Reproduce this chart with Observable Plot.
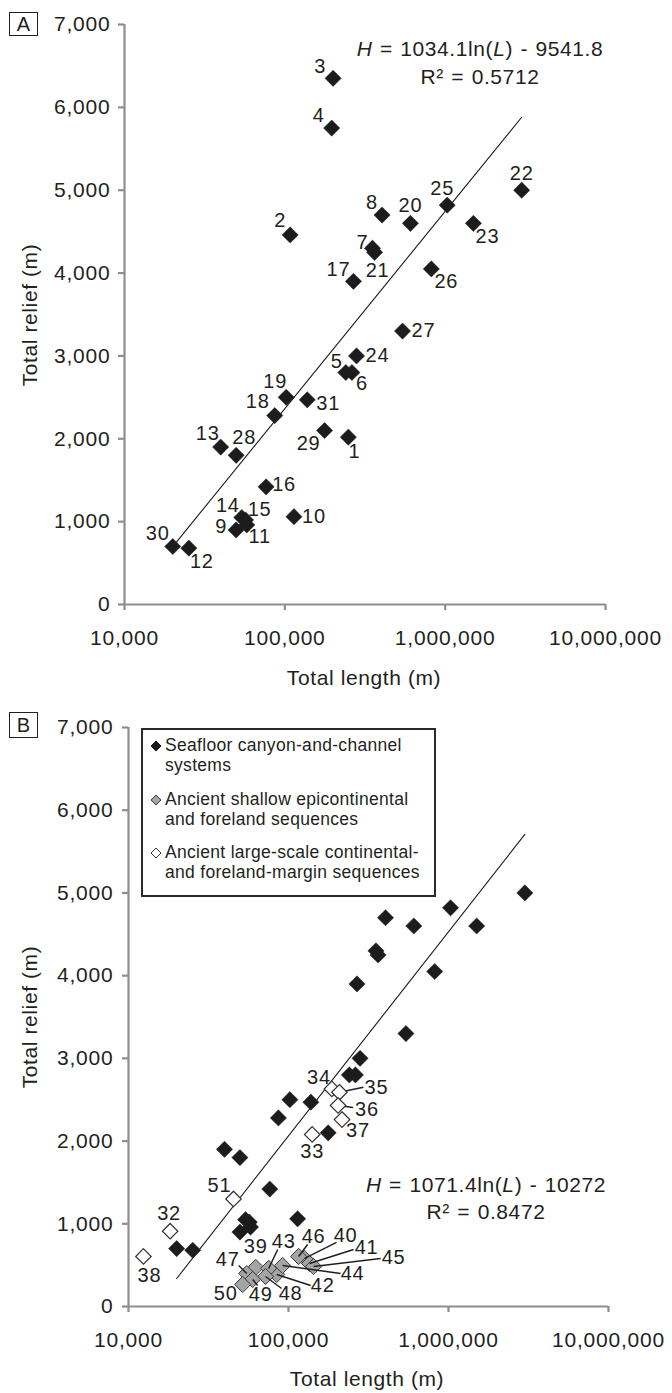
<!DOCTYPE html>
<html>
<head>
<meta charset="utf-8">
<script src="https://cdn.jsdelivr.net/npm/d3@7"></script>
<script src="https://cdn.jsdelivr.net/npm/@observablehq/plot@0.6"></script>
<style>
  html, body { margin: 0; padding: 0; background: #fff; }
  #page { position: relative; width: 672px; height: 1393px; overflow: hidden;
          font-family: "Liberation Sans", Arial, sans-serif; color: #231f20; }
  .panel { position: absolute; left: 0; }
  .panel svg text { fill: #231f20; letter-spacing: 0.8px; }
  .abs { position: absolute; white-space: nowrap; line-height: 1; }
  .center { transform: translate(-50%, -50%); }
  .ytitle { transform: translate(-50%, -50%) rotate(-90deg); }
  .title { font-size: 21px; letter-spacing: 0.6px; }
  .eq { font-size: 21px; letter-spacing: 0.6px; word-spacing: 1px; }
  .box { border: 1.6px solid #231f20; box-sizing: border-box; font-size: 20px;
         display: flex; align-items: center; justify-content: center; }
  .legend { border: 2px solid #2a2a2a; box-sizing: border-box; background: #fff; }
  .legtext { font-size: 17.5px; letter-spacing: 0.3px; }
</style>
</head>
<body>
<div id="page"></div>
<script>
// ---------------- data ----------------
const xTicks = [10000, 100000, 1000000, 10000000];
const yTicks = [0, 1000, 2000, 3000, 4000, 5000, 6000, 7000];

// Seafloor canyon-and-channel systems (1–31)
const seafloorIds = [1,2,3,4,5,6,7,8,9,10,11,12,13,14,15,16,17,18,19,20,21,22,23,24,25,26,27,28,29,30,31];
const seafloorLength = [249000,108000,200000,196000,240000,262000,352000,404000,49700,114000,
                        57900,25200,39800,53900,56900,76400,268000,86500,102000,607000,
                        363000,3000000,1500000,280000,1030000,820000,542000,49700,177000,20000,138000];
const seafloorRelief = [2020,4460,6350,5750,2800,2800,4300,4700,900,1060,
                        960,680,1900,1050,1020,1420,3900,2280,2500,4600,
                        4250,5000,4600,3000,4820,4050,3300,1800,2100,700,2470];
// seafloor systems not shown in panel B
const panelBOmitted = [1, 2, 3, 4];

// Ancient shallow epicontinental and foreland sequences (39–50)
const shallowIds = [39,40,41,42,43,44,45,46,47,48,49,50];
const shallowLength = [62400,126000,135500,84400,75200,91800,143500,115600,54800,71900,59700,51700];
const shallowRelief = [472,581,520,387,460,496,484,605,399,363,327,266];

// Ancient large-scale continental- and foreland-margin sequences
const marginIds = [32,33,34,35,36,37,38,51];
const marginLength = [18200,140600,186700,208000,204000,216000,12400,45300];
const marginRelief = [910,2080,2630,2590,2430,2260,605,1300];

// trend lines: H = a ln(L) + b
const trendA = [1034.1, -9541.8]; const r2A = "0.5712";
const trendB = [1071.4, -10272];  const r2B = "0.8472";

const legendLabels = [
  ["Seafloor canyon-and-channel", "systems"],
  ["Ancient shallow epicontinental", "and foreland sequences"],
  ["Ancient large-scale continental-", "and foreland-margin sequences"]
];
const xTitle = "Total length (m)";
const yTitle = "Total relief (m)";

// ---------------- styles (label offsets in px) ----------------
const labelOffsetA = {
  1:[6,14], 2:[-10,-14], 3:[-13,-12], 4:[-13,-12], 5:[-9,-11], 6:[10,11], 7:[-10,-6], 8:[-10,-12],
  9:[-15,-3], 10:[20,0], 11:[13,12], 12:[13,13], 13:[-13,-13], 14:[-14,-12], 15:[14,-10], 16:[18,-2],
  17:[-15,-12], 18:[-17,-14], 19:[-11,-16], 20:[0,-18], 21:[3,18], 22:[0,-17], 23:[14,13], 24:[21,0],
  25:[-5,-17], 26:[15,13], 27:[21,0], 28:[8,-18], 29:[-16,13], 30:[-15,-13], 31:[21,4]
};
const labelOffsetB = {
  32:[-1,-18], 33:[0,17], 34:[-13,-11], 35:[37,-5], 36:[29,4], 37:[16,11], 38:[6,19], 51:[-14,-13],
  39:[0,-21], 40:[41,-23], 41:[57,-16], 42:[46,11], 43:[15,-27], 44:[70,8], 45:[80,-9], 46:[15,-20],
  47:[-19,-14], 48:[25,17], 49:[8,15], 50:[-17,9]
};
const leaderEndB = {
  35:[24,-5], 36:[15,2],
  40:[32,-16], 41:[44,-14], 42:[34,11], 43:[9,-19], 44:[58,8], 45:[67,-8], 46:[9,-12],
  47:[-8,-8], 48:[16,12], 49:[5,6]
};

const W = 672;
const axisGray = "#8e8e8e";

function rows(ids, Ls, Hs) { return ids.map((id, i) => ({id, L: Ls[i], H: Hs[i]})); }
const seafloor = rows(seafloorIds, seafloorLength, seafloorRelief);
const seafloorB = seafloor.filter(d => !panelBOmitted.includes(d.id));
const shallow = rows(shallowIds, shallowLength, shallowRelief);
const margin = rows(marginIds, marginLength, marginRelief);

function trendLine(coef, pts) {
  const ext = d3.extent(pts, d => d.L);
  return ext.map(L => ({L, H: coef[0] * Math.log(L) + coef[1]}));
}

function buildPanel({top, height, mt, mb, ml, mr, layers, labels, leaders, trend, tickPadY}) {
  const sx = d3.scaleLog().domain([1e4, 1e7]).range([ml, W - mr]);
  const sy = d3.scaleLinear().domain([0, 7000]).range([height - mb, mt]);
  const shift = (L, H, o) => ({x: sx.invert(sx(L) + o[0]), y: sy.invert(sy(H) + o[1])});
  const labelData = labels.pts.filter(p => labels.off[p.id]).map(p => ({text: String(p.id), ...shift(p.L, p.H, labels.off[p.id])}));
  const leaderData = leaders.pts.filter(p => leaders.off[p.id]).map(p => {
    const e = shift(p.L, p.H, leaders.off[p.id]);
    return {x1: p.L, y1: p.H, x2: e.x, y2: e.y};
  });
  const marks = [
    Plot.ruleY([0], {stroke: axisGray, strokeWidth: 2.2}),
    Plot.ruleX([1e4], {stroke: axisGray, strokeWidth: 2.2}),
    Plot.axisX({ticks: xTicks, tickFormat: d3.format(","), tickSize: 6, tickPadding: 20,
                stroke: axisGray, strokeWidth: 2.2, fill: "#231f20", label: null}),
    Plot.axisY({ticks: yTicks, tickFormat: d3.format(","), tickSize: 6, tickPadding: tickPadY,
                stroke: axisGray, strokeWidth: 2.2, fill: "#231f20", label: null}),
    Plot.line(trendLine(trend, layers.trendPts), {x: "L", y: "H", stroke: "#1a1a1a", strokeWidth: 1.1}),
    ...layers.before,
    Plot.link(leaderData, {x1: "x1", y1: "y1", x2: "x2", y2: "y2", stroke: "#231f20", strokeWidth: 1.5}),
    ...layers.after,
    Plot.text(labelData, {x: "x", y: "y", text: "text", fontSize: 20, textAnchor: "middle", fill: "#231f20"})
  ];
  const chart = Plot.plot({
    width: W, height, marginTop: mt, marginBottom: mb, marginLeft: ml, marginRight: mr,
    x: {type: "log", domain: [1e4, 1e7], label: null},
    y: {domain: [0, 7000], label: null},
    style: {fontFamily: '"Liberation Sans", Arial, sans-serif', fontSize: "21px", background: "white", overflow: "visible"},
    marks
  });
  const wrap = document.createElement("div");
  wrap.className = "panel";
  wrap.style.top = top + "px";
  wrap.appendChild(chart);
  document.getElementById("page").appendChild(wrap);
}

const dotBlack = pts => Plot.dot(pts, {x: "L", y: "H", symbol: "diamond2", r: 7.3, fill: "#1c1c1c", stroke: "#1c1c1c", strokeWidth: 0.5});
const dotGray = pts => Plot.dot(pts, {x: "L", y: "H", symbol: "diamond2", r: 7.3, fill: "#a4a4a4", stroke: "#3c3c3c", strokeWidth: 1});
const dotOpen = pts => Plot.dot(pts, {x: "L", y: "H", symbol: "diamond2", r: 7.0, fill: "#fff", stroke: "#333", strokeWidth: 1.2});

// Panel A
buildPanel({
  top: 0, height: 690, mt: 24, mb: 86, ml: 124, mr: 67, tickPadY: 8,
  trend: trendA,
  layers: {trendPts: seafloor, before: [dotBlack(seafloor)], after: []},
  labels: {pts: seafloor, off: labelOffsetA},
  leaders: {pts: [], off: {}}
});
// Panel B
buildPanel({
  top: 690, height: 703, mt: 37, mb: 87, ml: 128, mr: 64, tickPadY: 9,
  trend: trendB,
  layers: {trendPts: seafloorB, before: [dotBlack(seafloorB), dotGray(shallow)], after: [dotOpen(margin)]},
  labels: {pts: [...margin, ...shallow], off: labelOffsetB},
  leaders: {pts: [...margin, ...shallow], off: leaderEndB}
});

// ---------------- HTML text overlays ----------------
const page = document.getElementById("page");
function addDiv(cls, html, css) {
  const d = document.createElement("div");
  d.className = "abs " + cls;
  d.innerHTML = html;
  Object.assign(d.style, css);
  page.appendChild(d);
  return d;
}
// panel letters
addDiv("box", "A", {left: "9px", top: "12px", width: "29px", height: "24px"});
addDiv("box", "B", {left: "9px", top: "712px", width: "29px", height: "26px"});
// axis titles
addDiv("title center", xTitle, {left: "364px", top: "677px"});
addDiv("title center", xTitle, {left: "367px", top: "1378px"});
addDiv("title ytitle", yTitle, {left: "29px", top: "315px"});
addDiv("title ytitle", yTitle, {left: "29px", top: "1017px"});
// equations
const eqText = c => `<i>H</i> = ${c[0]}ln(<i>L</i>) - ${-c[1]}`;
addDiv("eq center", eqText(trendA), {left: "480px", top: "48px"});
addDiv("eq center", "R² = " + r2A, {left: "480px", top: "76px"});
addDiv("eq center", eqText(trendB), {left: "486px", top: "1184px"});
addDiv("eq center", "R² = " + r2B, {left: "486px", top: "1211px"});
// legend
addDiv("legend", "", {left: "141px", top: "728px", width: "295px", height: "169px"});
const markerStyles = [
  {fill: "#1c1c1c", stroke: "#1c1c1c"},
  {fill: "#a4a4a4", stroke: "#3c3c3c"},
  {fill: "#fff", stroke: "#333"}
];
const legendY = [746, 800, 853];
legendLabels.forEach((lines, i) => {
  const m = markerStyles[i];
  addDiv("", `<svg width="12" height="12" viewBox="-6 -6 12 12" style="display:block"><polygon points="0,-5 5,0 0,5 -5,0" fill="${m.fill}" stroke="${m.stroke}" stroke-width="1"/></svg>`,
    {left: "150px", top: (legendY[i] - 6) + "px"});
  addDiv("legtext", lines[0], {left: "165px", top: (legendY[i] - 9) + "px"});
  addDiv("legtext", lines[1], {left: "165px", top: (legendY[i] + 11) + "px"});
});
</script>
</body>
</html>
